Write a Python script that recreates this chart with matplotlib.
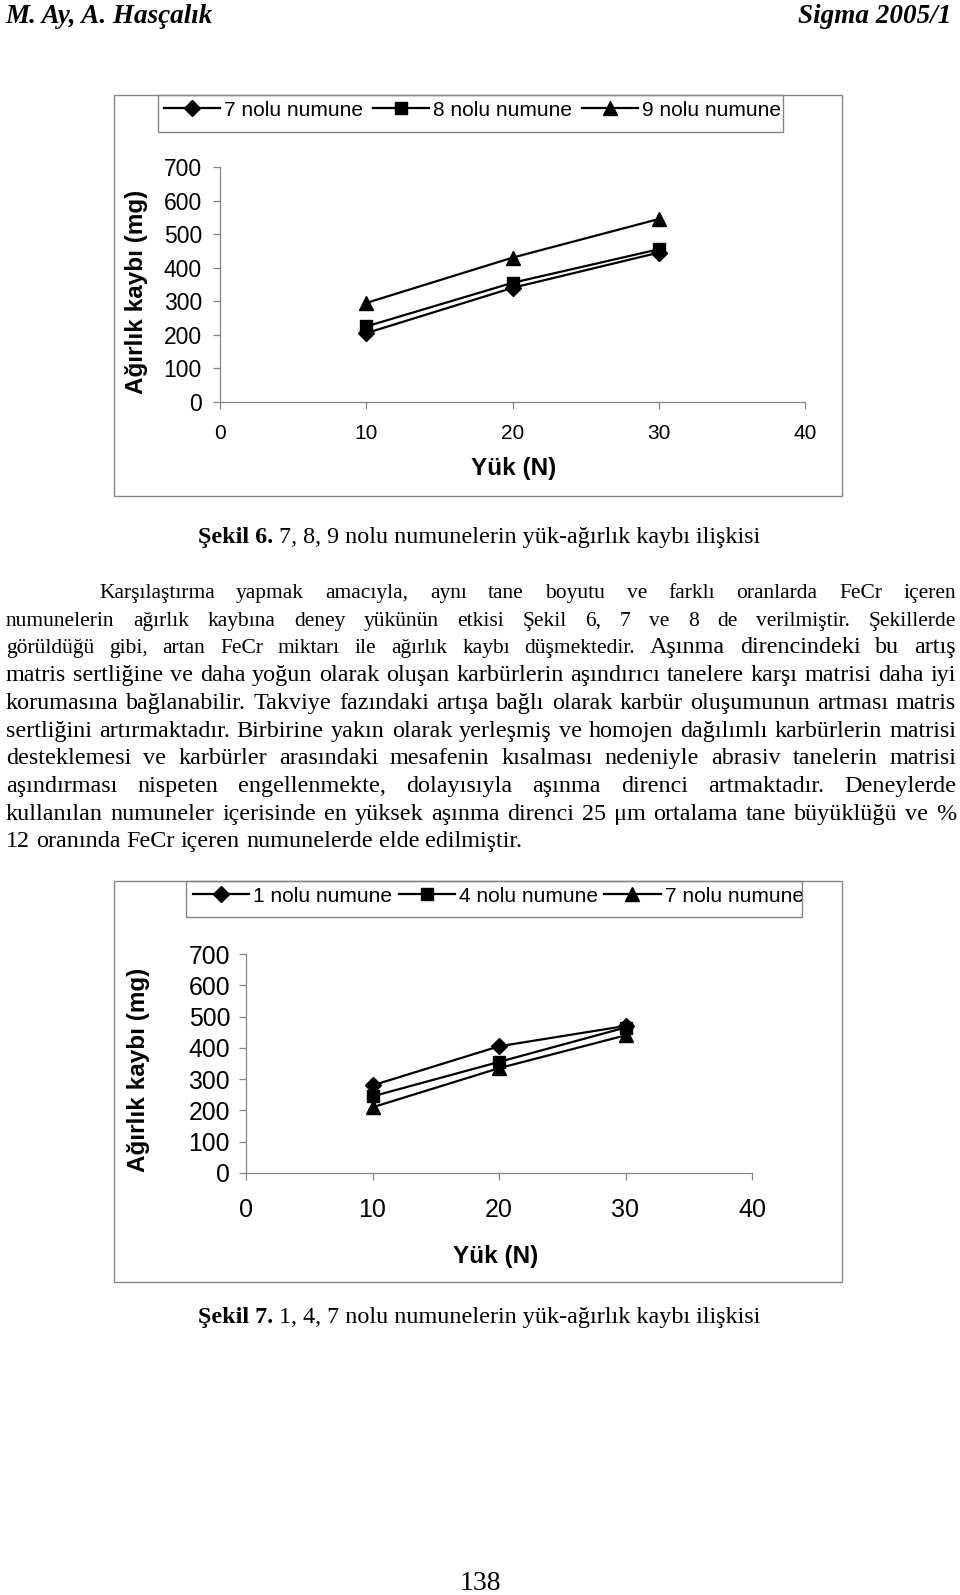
import matplotlib
matplotlib.use("Agg")
import matplotlib.pyplot as plt
from matplotlib.patches import Rectangle

# ── Page size (px, dpi=100) ──────────────────────────────────────────────────
W, H = 960, 1595
GRAY = "#858585"

# ── Data ─────────────────────────────────────────────────────────────────────
yuk = [10, 20, 30]                       # Yük (N)
x_ticks = [0, 10, 20, 30, 40]
y_ticks = [0, 100, 200, 300, 400, 500, 600, 700]

sekil6_labels = ["7 nolu numune", "8 nolu numune", "9 nolu numune"]
sekil6_n7 = [205, 340, 445]
sekil6_n8 = [225, 355, 455]
sekil6_n9 = [295, 430, 545]

sekil7_labels = ["1 nolu numune", "4 nolu numune", "7 nolu numune"]
sekil7_n1 = [280, 405, 470]
sekil7_n4 = [245, 355, 465]
sekil7_n7 = [210, 335, 440]

markers = ["D", "s", "^"]
marker_sizes = [8.5, 8, 10.5]

paragraph = [
    "Karşılaştırma yapmak amacıyla, aynı tane boyutu ve farklı oranlarda  FeCr içeren",
    "numunelerin ağırlık kaybına deney yükünün etkisi Şekil 6, 7 ve 8 de verilmiştir. Şekillerde",
    "görüldüğü gibi, artan FeCr miktarı ile ağırlık kaybı düşmektedir. Aşınma direncindeki bu artış",
    "matris sertliğine ve  daha yoğun olarak oluşan karbürlerin aşındırıcı tanelere karşı matrisi daha iyi",
    "korumasına bağlanabilir. Takviye fazındaki artışa bağlı olarak karbür oluşumunun artması matris",
    "sertliğini artırmaktadır. Birbirine yakın olarak yerleşmiş ve homojen dağılımlı karbürlerin matrisi",
    "desteklemesi ve karbürler arasındaki mesafenin kısalması nedeniyle abrasiv tanelerin matrisi",
    "aşındırması nispeten engellenmekte, dolayısıyla aşınma direnci artmaktadır. Deneylerde",
    "kullanılan numuneler içerisinde en yüksek aşınma direnci 25 μm ortalama tane büyüklüğü ve %",
    "12 oranında FeCr içeren numunelerde elde edilmiştir.",
]
# the PDF switches to a larger text run from this word on
switch_line, switch_word = 2, "Aşınma"

plt.rcParams["font.family"] = ["Liberation Sans", "DejaVu Sans"]

fig = plt.figure(figsize=(W / 100, H / 100), dpi=100)
renderer = fig.canvas.get_renderer()


def fx(x):
    return x / W


def fy(y):
    return 1 - y / H


def text_w(s, **kw):
    t = fig.text(0, 0, s, **kw)
    w = t.get_window_extent(renderer).width
    t.remove()
    return w


def frame(x0, y0, x1, y1):
    fig.add_artist(Rectangle((fx(x0), fy(y1)), (x1 - x0) / W, (y1 - y0) / H,
                             transform=fig.transFigure, fill=False, ec=GRAY, lw=1))


# ── Chart helper ─────────────────────────────────────────────────────────────
def draw_chart(box, leg_box, leg_xy, leg_colsp, axes_px, series, labels,
               ylab_xy, xlab_xy, xtick_fs, ytick_fs, xpad, ypad):
    frame(*box)

    x0, x1, y0, y1 = axes_px
    ax = fig.add_axes([fx(x0), fy(y0), (x1 - x0) / W, (y0 - y1) / H])
    ax.patch.set_visible(False)

    handles = []
    for vals, m, ms in zip(series, markers, marker_sizes):
        h, = ax.plot(yuk, vals, color="black", lw=1.6, marker=m, ms=ms,
                     mfc="black", mec="black", clip_on=False)
        handles.append(h)

    ax.set_xlim(x_ticks[0], x_ticks[-1])
    ax.set_ylim(y_ticks[0], y_ticks[-1])
    ax.set_xticks(x_ticks)
    ax.set_yticks(y_ticks)
    for s in ["top", "right"]:
        ax.spines[s].set_visible(False)
    for s in ["left", "bottom"]:
        ax.spines[s].set_color(GRAY)
        ax.spines[s].set_linewidth(0.9)
    ax.tick_params(axis="both", direction="out", length=5, width=0.9, color=GRAY)
    ax.tick_params(axis="x", pad=xpad, labelsize=xtick_fs)
    ax.tick_params(axis="y", pad=ypad, labelsize=ytick_fs)

    # legend box drawn separately; entries start at leg_xy, a bit above centre
    frame(*leg_box)
    ax.legend(handles, labels, loc="center left", ncol=3,
              bbox_to_anchor=(fx(leg_xy[0]), fy(leg_xy[1])),
              bbox_transform=fig.transFigure, fontsize=15, handlelength=2.7,
              handletextpad=0.2, columnspacing=leg_colsp, borderpad=0,
              borderaxespad=0, frameon=False)

    fig.text(fx(ylab_xy[0]), fy(ylab_xy[1]), "Ağırlık kaybı (mg)", rotation=90,
             ha="center", va="center", fontsize=17.5, fontweight="bold")
    fig.text(fx(xlab_xy[0]), fy(xlab_xy[1]), "Yük (N)",
             ha="center", va="center", fontsize=17.5, fontweight="bold")
    return ax


serif_s = dict(family="Liberation Serif", size=15.5)
serif_l = dict(family="Liberation Serif", size=17.4)
serif_b = dict(family="Liberation Serif", size=17.4, weight="bold")


def caption(x, base, bold, rest):
    fig.text(fx(x), fy(base), bold, ha="left", va="baseline", **serif_b)
    wb = text_w(bold, **serif_b)
    sp = text_w("x x", **serif_l) - text_w("xx", **serif_l)
    fig.text(fx(x + wb + sp), fy(base), rest, ha="left", va="baseline", **serif_l)


# ── Header ───────────────────────────────────────────────────────────────────
hdr = dict(family="Liberation Serif", size=19.5, weight="bold", style="italic")
fig.text(fx(5), fy(23), "M. Ay, A. Hasçalık", ha="left", va="baseline", **hdr)
fig.text(fx(951), fy(23), "Sigma 2005/1", ha="right", va="baseline", **hdr)

# ── Şekil 6 ──────────────────────────────────────────────────────────────────
draw_chart(box=(114, 95, 842, 496), leg_box=(158, 95, 783, 132),
           leg_xy=(164, 110), leg_colsp=0.45,
           axes_px=(220, 805, 402, 167),
           series=[sekil6_n7, sekil6_n8, sekil6_n9], labels=sekil6_labels,
           ylab_xy=(137, 292), xlab_xy=(514, 469), xtick_fs=15, ytick_fs=16.5,
           xpad=11, ypad=8)
caption(198, 543, "Şekil 6.", "7, 8, 9 nolu numunelerin yük-ağırlık kaybı ilişkisi")

# ── Paragraph (justified) ────────────────────────────────────────────────────
PARA_LEFT, PARA_RIGHT, INDENT = 6, 956, 99
BASE0, LEAD = 598, 27.7
large = False
for i, line in enumerate(paragraph):
    words = line.split()
    base = BASE0 + i * LEAD
    left = INDENT if i == 0 else PARA_LEFT
    styles = []
    for w in words:
        if i == switch_line and w == switch_word:
            large = True
        styles.append(serif_l if large else serif_s)
    widths = [text_w(w, **st) for w, st in zip(words, styles)]
    if i < len(paragraph) - 1:
        gap = (PARA_RIGHT - left - sum(widths)) / (len(words) - 1)
    else:
        gap = text_w("x x", **serif_l) - text_w("xx", **serif_l)
    x = left
    for w, wd, st in zip(words, widths, styles):
        fig.text(fx(x), fy(base), w, ha="left", va="baseline", **st)
        x += wd + gap

# ── Şekil 7 ──────────────────────────────────────────────────────────────────
draw_chart(box=(114, 881, 842, 1282), leg_box=(186, 881, 802, 917),
           leg_xy=(193, 896), leg_colsp=0.3,
           axes_px=(246, 752, 1173, 954),
           series=[sekil7_n1, sekil7_n4, sekil7_n7], labels=sekil7_labels,
           ylab_xy=(139, 1070), xlab_xy=(496, 1257), xtick_fs=18, ytick_fs=17.8,
           xpad=13, ypad=6.5)
caption(198, 1323, "Şekil 7.", "1, 4, 7 nolu numunelerin yük-ağırlık kaybı ilişkisi")

# ── Page number ──────────────────────────────────────────────────────────────
fig.text(fx(480), fy(1590), "138", ha="center", va="baseline",
         family="Liberation Serif", size=20)

fig.savefig("out.png", dpi=100)
